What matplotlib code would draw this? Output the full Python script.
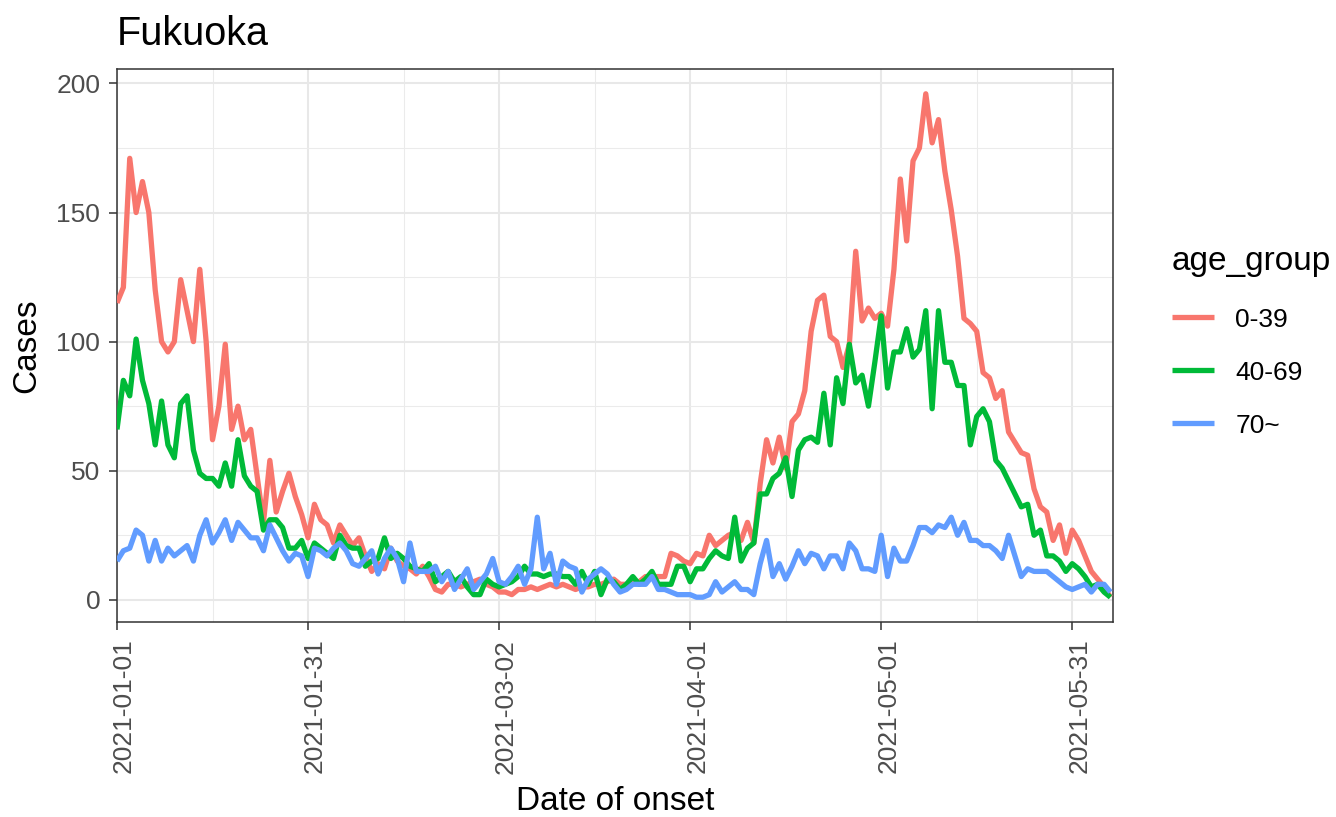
import numpy as np
import pandas as pd
import matplotlib
matplotlib.use('Agg')
import matplotlib.pyplot as plt
from matplotlib.lines import Line2D
from matplotlib.transforms import ScaledTranslation

# ---------------- data ----------------
start_date = '2021-01-01'
title = 'Fukuoka'
age_groups = ['0-39', '40-69', '70~']
colors = ['#F8766D', '#00BA38', '#619CFF']

cases_0_39 = [
    115, 121, 171, 150, 162, 150, 120, 100, 96, 100,
    124, 112, 100, 128, 100, 62, 75, 99, 66, 75,
    62, 66, 48, 30, 54, 34, 42, 49, 40, 33,
    24, 37, 31, 29, 22, 29, 25, 21, 24, 17,
    11, 14, 12, 20, 15, 13, 12, 10, 13, 9,
    4, 3, 6, 6, 5, 6, 7, 8, 6, 5,
    3, 3, 2, 4, 4, 5, 4, 5, 6, 5,
    6, 5, 4, 5, 5, 6, 6, 7, 8, 6,
    6, 7, 7, 9, 9, 9, 9, 18, 17, 15,
    14, 18, 17, 25, 21, 23, 25, 26, 23, 30,
    22, 45, 62, 53, 63, 51, 69, 72, 81, 104,
    116, 118, 102, 100, 90, 99, 135, 108, 113, 109,
    111, 106, 128, 163, 139, 170, 175, 196, 177, 186,
    166, 151, 133, 109, 107, 104, 88, 86, 78, 81,
    65, 61, 57, 56, 43, 36, 34, 23, 29, 18,
    27, 23, 17, 11, 8, 5, 1,
]

cases_40_69 = [
    66, 85, 79, 101, 85, 76, 60, 77, 60, 55,
    76, 79, 58, 49, 47, 47, 44, 53, 44, 62,
    48, 44, 42, 27, 31, 31, 28, 20, 20, 23,
    16, 22, 20, 18, 16, 25, 21, 20, 20, 13,
    15, 16, 24, 16, 18, 16, 13, 12, 11, 14,
    7, 9, 11, 7, 9, 5, 2, 2, 8, 6,
    5, 6, 7, 9, 13, 10, 10, 9, 10, 10,
    9, 9, 6, 11, 6, 11, 2, 8, 7, 4,
    6, 9, 6, 8, 11, 6, 6, 6, 13, 13,
    7, 12, 12, 16, 19, 17, 16, 32, 15, 20,
    22, 41, 41, 47, 49, 55, 40, 58, 62, 63,
    61, 80, 60, 86, 76, 99, 84, 87, 75, 92,
    110, 82, 96, 96, 105, 94, 97, 112, 74, 112,
    92, 92, 83, 83, 60, 71, 74, 69, 54, 51,
    46, 41, 36, 37, 25, 27, 17, 17, 15, 11,
    14, 12, 9, 5, 6, 3, 1,
]

cases_70_plus = [
    15, 19, 20, 27, 25, 15, 23, 15, 20, 17,
    19, 21, 15, 25, 31, 22, 26, 31, 23, 30,
    27, 24, 24, 19, 29, 24, 19, 15, 18, 17,
    9, 20, 19, 17, 20, 22, 19, 14, 13, 16,
    19, 10, 16, 20, 16, 7, 22, 11, 11, 11,
    13, 7, 11, 4, 8, 12, 4, 7, 10, 16,
    7, 6, 9, 13, 6, 12, 32, 12, 18, 6,
    15, 13, 12, 3, 8, 10, 12, 10, 6, 3,
    4, 6, 6, 6, 9, 4, 4, 3, 2, 2,
    2, 1, 1, 2, 7, 3, 5, 7, 4, 4,
    2, 14, 23, 9, 14, 8, 13, 19, 14, 18,
    17, 12, 17, 17, 12, 22, 19, 12, 12, 11,
    25, 9, 20, 15, 15, 21, 28, 28, 26, 29,
    28, 32, 25, 30, 23, 23, 21, 21, 19, 16,
    25, 17, 9, 12, 11, 11, 11, 9, 7, 5,
    4, 5, 6, 3, 6, 6, 3,
]

tick_dates = ['2021-01-01', '2021-01-31', '2021-03-02',
              '2021-04-01', '2021-05-01', '2021-05-31']
y_ticks = [0, 50, 100, 150, 200]
y_minor = [25, 75, 125, 175]

# ---------------- plot ----------------
plt.rcParams['font.family'] = ['Liberation Sans', 'DejaVu Sans']

W, H = 1336, 817
fig = plt.figure(figsize=(W / 100, H / 100), dpi=100)
fig.patch.set_facecolor('white')

L, R, T, B = 117, 1113, 69, 622
ax = fig.add_axes([L / W, 1 - B / H, (R - L) / W, (B - T) / H])

dates = pd.date_range(start_date, periods=len(cases_0_39), freq='D')
series = [cases_0_39, cases_40_69, cases_70_plus]
for vals, lab, col in zip(series, age_groups, colors):
    ax.plot(dates, vals, color=col, lw=3.8, label=lab,
            solid_joinstyle='round', solid_capstyle='butt', zorder=3)

t0 = pd.Timestamp(start_date)
x_end = t0 + pd.Timedelta(days=156.4)

major = pd.to_datetime(tick_dates)
half = (major[1] - major[0]) / 2
minor = [d + half for d in major if d + half <= x_end]
ax.set_xticks(major)
ax.set_xticklabels(tick_dates, rotation=90)
ax.set_xticks(minor, minor=True)
ax.set_yticks(y_ticks)
ax.set_yticklabels([str(v) for v in y_ticks])
ax.set_yticks(y_minor, minor=True)

ax.set_xlim(t0, x_end)
ax.set_ylim(-8.6, 205.6)

ax.grid(True, which='major', color='#E8E8E8', lw=1.5, zorder=0)
ax.grid(True, which='minor', color='#EBEBEB', lw=0.75, zorder=0)
ax.set_axisbelow(True)

for sp in ax.spines.values():
    sp.set_color('#333333')
    sp.set_linewidth(1.1)

ax.tick_params(axis='both', which='major', length=5.5, width=1.1,
               color='#333333', labelcolor='#4D4D4D', labelsize=19, pad=6.5)
ax.tick_params(axis='both', which='minor', length=0)

shift = ScaledTranslation(7 / 100, 0, fig.dpi_scale_trans)
for lab in ax.get_xticklabels():
    lab.set_transform(lab.get_transform() + shift)

ax.set_title(title, loc='left', fontsize=28.5, pad=17, color='black')
ax.set_xlabel('Date of onset', fontsize=24, va='center')
ax.set_ylabel('Cases', fontsize=24, va='center')
ax.xaxis.set_label_coords(615 / W, 1 - 801 / H, transform=fig.transFigure)
ax.yaxis.set_label_coords(27 / W, 1 - 346 / H, transform=fig.transFigure)

handles = [Line2D([], [], color=c, lw=3.8, solid_capstyle='butt') for c in colors]
leg = ax.legend(handles, age_groups, title='age_group', loc='upper left',
                bbox_to_anchor=(1172 / W, 1 - 246 / H), bbox_transform=fig.transFigure,
                frameon=False, fontsize=19, title_fontsize=24,
                handlelength=1.6, handletextpad=0.8, labelspacing=1.1,
                alignment='left', borderaxespad=0, borderpad=0)
leg._legend_box.sep = 22

fig.savefig('out.png', dpi=100)
